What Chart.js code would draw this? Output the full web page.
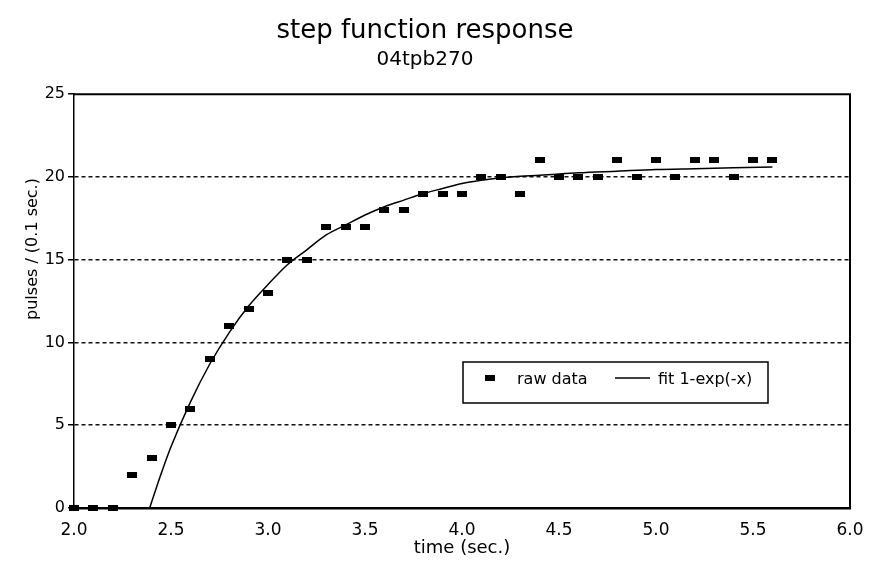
<!DOCTYPE html>
<html>
<head>
<meta charset="utf-8">
<script src="https://cdn.jsdelivr.net/npm/chart.js@4/dist/chart.umd.min.js"></script>
<style>
  html, body { margin: 0; padding: 0; background: #fff; }
  #wrap { width: 872px; height: 561px; }
</style>
</head>
<body>
<div id="wrap"><canvas id="c"></canvas></div>
<script>
'use strict';

/* datos */
const rawX = [2.0, 2.1, 2.2, 2.3, 2.4, 2.5, 2.6, 2.7, 2.8, 2.9, 3.0, 3.1, 3.2, 3.3, 3.4, 3.5, 3.6, 3.7, 3.8,
              3.9, 4.0, 4.1, 4.2, 4.3, 4.4, 4.5, 4.6, 4.7, 4.8, 4.9, 5.0, 5.1, 5.2, 5.3, 5.4, 5.5, 5.6];
const rawY = [0, 0, 0, 2, 3, 5, 6, 9, 11, 12, 13, 15, 15, 17, 17, 17, 18, 18, 19,
              19, 19, 20, 20, 19, 21, 20, 20, 20, 21, 20, 21, 20, 21, 21, 20, 21, 21];
const fitX = [2.39, 2.45, 2.5, 2.6, 2.7, 2.8, 2.9, 3.0, 3.1, 3.2, 3.3, 3.4, 3.5, 3.6, 3.7, 3.8, 3.9,
              4.0, 4.1, 4.2, 4.3, 4.4, 4.6, 4.8, 5.0, 5.2, 5.4, 5.6];
const fitY = [0, 2.1, 3.7, 6.4, 8.7, 10.6, 12.2, 13.5, 14.7, 15.6, 16.5, 17.1, 17.7, 18.2, 18.6, 19.0, 19.3,
              19.6, 19.8, 19.95, 20.05, 20.1, 20.25, 20.35, 20.45, 20.5, 20.55, 20.6];
const xTicks = { min: 2, max: 6, step: 0.5 };
const yTicks = { min: 0, max: 25, step: 5 };

const TITLE = 'step function response';
const SUBTITLE = '04tpb270';
const X_LABEL = 'time (sec.)';
const Y_LABEL = 'pulses / (0.1 sec.)';
const FONT = 'DejaVu Sans, Liberation Sans, sans-serif';
const INK = '#000';

/* marcador rectangular de los datos crudos */
const mark = document.createElement('canvas');
mark.width = 10; mark.height = 6;
mark.getContext('2d').fillRect(0, 0, 10, 6);

/* marco superior y derecho + título del eje y */
const framePlugin = {
  id: 'frame',
  afterDraw(chart) {
    const { ctx, chartArea: a } = chart;
    ctx.save();
    ctx.strokeStyle = INK;
    ctx.lineWidth = 2;
    ctx.beginPath();
    ctx.moveTo(a.left, a.top); ctx.lineTo(a.right, a.top); ctx.lineTo(a.right, a.bottom);
    ctx.stroke();
    ctx.translate(33, 249);
    ctx.rotate(-Math.PI / 2);
    ctx.fillStyle = INK;
    ctx.font = '16px ' + FONT;
    ctx.textAlign = 'center';
    ctx.textBaseline = 'middle';
    ctx.fillText(Y_LABEL, 0, 0);
    ctx.restore();
  },
};

/* leyenda dentro del área del gráfico */
const boxLegend = {
  id: 'boxLegend',
  afterDraw(chart) {
    const { ctx } = chart;
    const ds = chart.data.datasets;
    ctx.save();
    ctx.fillStyle = '#fff';
    ctx.fillRect(463, 362, 305, 41);
    ctx.strokeStyle = INK;
    ctx.lineWidth = 1.5;
    ctx.strokeRect(463, 362, 305, 41);
    ctx.fillStyle = INK;
    ctx.fillRect(485, 375, 10, 6);
    ctx.font = '16px ' + FONT;
    ctx.textBaseline = 'middle';
    ctx.fillText(ds[0].label, 517, 380);
    ctx.lineWidth = 1.5;
    ctx.beginPath(); ctx.moveTo(615, 378); ctx.lineTo(650, 378); ctx.stroke();
    ctx.fillText(ds[1].label, 658, 380);
    ctx.restore();
  },
};

new Chart(document.getElementById('c'), {
  type: 'scatter',
  data: {
    datasets: [
      {
        label: 'raw data',
        data: rawX.map((x, i) => ({ x, y: rawY[i] })),
        pointStyle: mark, pointRadius: 5, pointHoverRadius: 5,
        backgroundColor: INK, borderColor: INK, showLine: false, clip: false,
      },
      {
        label: 'fit 1-exp(-x)',
        data: fitX.map((x, i) => ({ x, y: fitY[i] })),
        showLine: true, pointRadius: 0, borderColor: INK, borderWidth: 1.5,
        cubicInterpolationMode: 'monotone', fill: false,
      },
    ],
  },
  options: {
    responsive: true, maintainAspectRatio: false, animation: false,
    layout: { padding: { left: 0, right: 22, top: 0, bottom: 0 } },
    plugins: {
      legend: { display: false },
      tooltip: { enabled: false },
      title: { display: true, text: TITLE, color: INK, font: { family: FONT, size: 26, weight: 'normal' }, padding: { top: 16, bottom: 0 } },
      subtitle: { display: true, text: SUBTITLE, color: INK, font: { family: FONT, size: 20, weight: 'normal' }, padding: { top: 1, bottom: 22 } },
    },
    scales: {
      x: {
        type: 'linear', min: xTicks.min, max: xTicks.max,
        grid: { display: false },
        border: { display: true, color: INK, width: 2.5 },
        ticks: { stepSize: xTicks.step, color: INK, font: { family: FONT, size: 17 }, padding: 4, callback: v => v.toFixed(1) },
        title: { display: true, text: X_LABEL, color: INK, font: { family: FONT, size: 18 }, padding: { top: 0, bottom: 2 } },
        afterFit: s => { s.height = 53; },
      },
      y: {
        type: 'linear', min: yTicks.min, max: yTicks.max,
        grid: {
          color: c => (c.tick && (c.tick.value === yTicks.max || c.tick.value === yTicks.min)) ? 'rgba(0,0,0,0)' : '#111',
          lineWidth: 1.5, tickColor: INK, tickLength: 6, tickWidth: 1.5,
        },
        border: { display: true, color: INK, width: 1.5, dash: [4, 3] },
        ticks: { stepSize: yTicks.step, color: INK, font: { family: FONT, size: 16 }, padding: 3 },
        afterFit: s => { s.width = 74; },
      },
    },
  },
  plugins: [framePlugin, boxLegend],
});
</script>
</body>
</html>
